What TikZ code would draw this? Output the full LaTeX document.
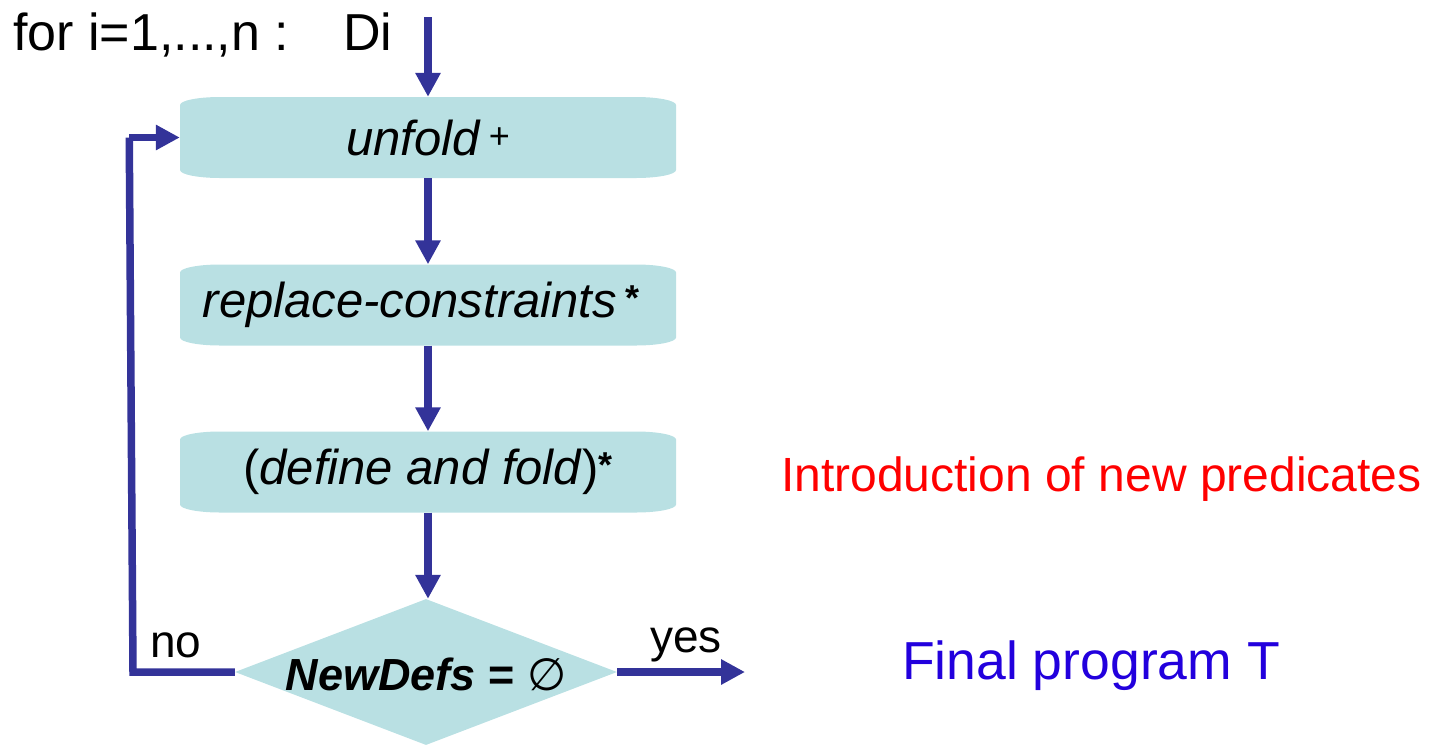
\documentclass[tikz,border=0pt]{standalone}
\usepackage{fontspec}
\setmainfont{Liberation Sans}
\newfontfamily\symfont{DejaVu Sans}
\usetikzlibrary{arrows.meta,shapes.geometric}

\definecolor{boxfill}{RGB}{185,224,227}
\definecolor{flowcol}{RGB}{51,51,153}
\definecolor{introred}{RGB}{255,0,0}
\definecolor{finalblue}{RGB}{34,0,221}

\newcommand{\fs}[1]{\fontsize{#1}{#1}\selectfont}
\newcommand{\supmark}[1]{{\fs{36}\raisebox{7pt}{#1}}}

\tikzset{
  flow/.style={draw=flowcol, line width=7.5pt,
    -{Triangle[length=24pt,width=24pt]}},
  loopline/.style={draw=flowcol, line width=7.5pt},
  stepbox/.style={minimum width=496pt, minimum height=81pt, inner sep=0pt,
    font=\fs{49}, text=black,
    path picture={
      \fill[boxfill]
        ([yshift=-8pt]path picture bounding box.north west)
          arc[start angle=180,end angle=90,x radius=40pt,y radius=8pt]
        -- ([xshift=-40pt]path picture bounding box.north east)
          arc[start angle=90,end angle=0,x radius=40pt,y radius=8pt]
        -- ([yshift=8pt]path picture bounding box.south east)
          arc[start angle=0,end angle=-90,x radius=40pt,y radius=8pt]
        -- ([xshift=40pt]path picture bounding box.south west)
          arc[start angle=270,end angle=180,x radius=40pt,y radius=8pt]
        -- cycle;
    }},
  decision/.style={diamond, fill=boxfill, minimum width=382pt,
    minimum height=146pt, inner sep=0pt, aspect=2.6},
  plain/.style={inner sep=0pt, text=black}
}

\begin{document}
\begin{tikzpicture}[x=1pt,y=-1pt]
  \useasboundingbox (0,0) rectangle (1431,745);

  % loop header
  \node[plain, anchor=base west, font=\fs{52}] (header) at (13,50)
    {for i=1,...,n :\hspace{1.04em}Di};
  \coordinate (entry) at (428,17);

  % transformation steps
  \node[stepbox] (unfold) at (428,137.5)
    {\textit{unfold}\,\supmark{+}};
  \node[stepbox] (replace) at (428,305)
    {\hspace*{-14pt}\textit{replace-constraints}\,\supmark{\textbf{*}}};
  \node[stepbox] (define) at (428,472)
    {(\textit{define and fold})\supmark{\textbf{*}}};

  % termination test
  \node[decision] (test) at (426,672) {};
  \node[plain, font=\fs{45}] (testlabel) at (426,674)
    {\textbf{\textit{NewDefs}} \textbf{=} {\symfont ∅}};

  % flow
  \draw[flow] (entry) -- (unfold.north);
  \draw[flow] (unfold.south) -- (replace.north);
  \draw[flow] (replace.south) -- (define.north);
  \draw[flow] (define.south) -- (define.south |- test.north);

  \coordinate (loopcorner) at (133,672);
  \coordinate (looptop) at (133,137.5);
  \draw[loopline] (test.west) -- (loopcorner) -- ([xshift=-3.75pt]looptop);
  \draw[flow] ([xshift=-3.75pt]looptop) -- (unfold.west);

  \coordinate (yesend) at (745,672);
  \draw[flow] (test.east) -- (yesend);

  \node[plain, anchor=base west, font=\fs{46}] (no) at (150,657) {no};
  \node[plain, anchor=base west, font=\fs{46}] (yes) at (650,652) {yes};

  % annotations
  \node[plain, anchor=base west, font=\fs{48}, text=introred] (intro)
    at (781,491) {Introduction of new predicates};
  \node[plain, anchor=base west, font=\fs{53.5}, text=finalblue] (final)
    at (902,679) {Final program T};
\end{tikzpicture}
\end{document}
